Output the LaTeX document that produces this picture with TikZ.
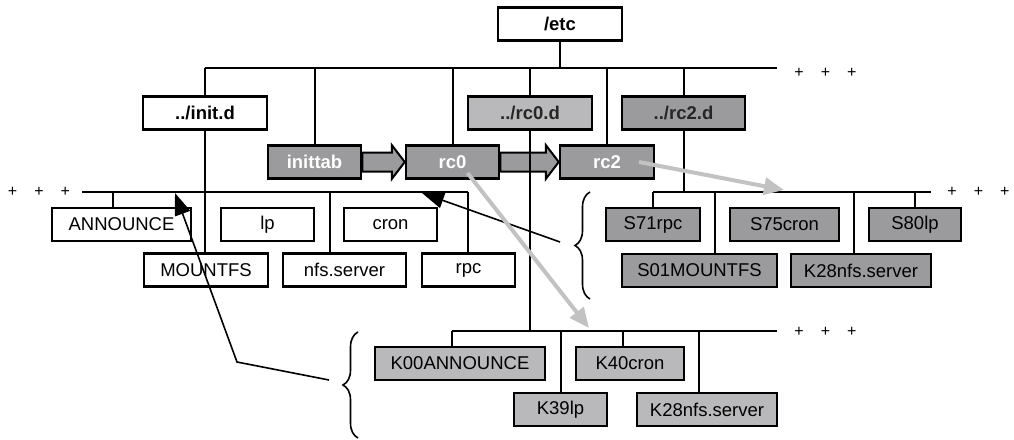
\documentclass[tikz,border=0pt]{standalone}
\usepackage{fontspec}
\setmainfont{Liberation Sans}
\usetikzlibrary{arrows.meta,decorations.pathreplacing}

\definecolor{darkfill}{HTML}{9B9B9E}
\definecolor{lightfill}{HTML}{B9B9BB}
\definecolor{linkgray}{HTML}{C2C2C2}

\begin{document}
\begin{tikzpicture}[x=1pt,y=-1pt,
		every node/.style={font=\fontsize{18.5}{20}\selectfont,inner sep=0pt},
		leafbox/.style={draw=black,line width=2.5pt,fill=white,minimum height=33pt},
		dirbox/.style={leafbox,font=\fontsize{18.5}{20}\selectfont\bfseries},
		linkbox/.style={dirbox,fill=darkfill,text=white},
		sbox/.style={leafbox,fill=darkfill},
		kbox/.style={leafbox,fill=lightfill},
		tree/.style={line width=2pt},
		blockarrow/.style={draw=black,line width=2pt,fill=darkfill},
		grayarrow/.style={draw=linkgray,line width=4pt,-{Triangle[length=20pt,width=17pt]}},
		blackarrow/.style={line width=1.6pt,-{Triangle[length=22pt,width=16pt]}},
		bracemark/.style={decorate,decoration={brace,amplitude=15pt},line width=1.6pt},
		plusses/.style={font=\fontsize{16}{16}\selectfont}]
		\useasboundingbox (0,0) rectangle (1014,439);

		\node[dirbox,minimum width=124pt] (etc) at (560,24) {/etc};
		\node[dirbox,minimum width=124pt] (initd) at (205,113) {../init.d};
		\node[dirbox,fill=lightfill,text=black!85,minimum width=124pt] (rcOd) at (530,113) {../rc0.d};
		\node[dirbox,fill=darkfill,text=black!85,minimum width=123pt] (rcTd) at (683.5,113) {../rc2.d};
		\node[linkbox,minimum width=93pt] (inittab) at (314.5,162) {inittab};
		\node[linkbox,minimum width=93pt] (rcO) at (452.5,162) {rc0};
		\node[linkbox,minimum width=94pt] (rcT) at (607,162) {rc2};

		\node[leafbox,minimum width=139pt] (announce) at (121.5,224.5) {ANNOUNCE};
		\node[leafbox,minimum width=93pt] (lp) at (267.5,224.5) {lp};
		\node[leafbox,minimum width=93pt] (cron) at (390.5,224.5) {cron};
		\node[leafbox,minimum width=124pt] (mountfs) at (206,270) {MOUNTFS};
		\node[leafbox,minimum width=123pt] (nfsserver) at (344.5,270) {nfs.server};
		\node[leafbox,minimum width=93pt] (rpc) at (468.5,270) {rpc};

		\node[sbox,minimum width=94pt] (sSevOne) at (653,224.5) {S71rpc};
		\node[sbox,minimum width=109pt] (sSevFive) at (784.5,224.5) {S75cron};
		\node[sbox,minimum width=92pt] (sEighty) at (915,224.5) {S80lp};
		\node[sbox,minimum width=155pt] (sMount) at (699.5,270.5) {S01MOUNTFS};
		\node[sbox,minimum width=140pt] (kNfsTwo) at (861,270.5) {K28nfs.server};

		\node[kbox,minimum width=170pt] (kAnn) at (460,363.5) {K00ANNOUNCE};
		\node[kbox,minimum width=108pt] (kCron) at (630,363.5) {K40cron};
		\node[kbox,minimum width=93pt] (kLp) at (560.5,409.5) {K39lp};
		\node[kbox,minimum width=140pt] (kNfsZero) at (707,409.5) {K28nfs.server};

		\node[plusses] (plusEtc) at (825.5,73) {+\hspace{17pt}+\hspace{17pt}+};
		\node[plusses] (plusInit) at (39,192) {+\hspace{17pt}+\hspace{17pt}+};
		\node[plusses] (plusRcT) at (978.5,192) {+\hspace{17pt}+\hspace{17pt}+};
		\node[plusses] (plusRcO) at (825.5,332) {+\hspace{17pt}+\hspace{17pt}+};

		\foreach \a/\b in {inittab/rcO,rcO/rcT}
			\draw[blockarrow] ([yshift=9.5pt]\a.east) -- ([xshift=-13pt,yshift=9.5pt]\b.west)
				-- ([xshift=-13pt,yshift=17pt]\b.west) -- (\b.west)
				-- ([xshift=-13pt,yshift=-17pt]\b.west) -- ([xshift=-13pt,yshift=-9.5pt]\b.west)
				-- ([yshift=-9.5pt]\a.east) -- cycle;

		\coordinate (etcL) at (205,68);
		\coordinate (etcR) at (777,68);
		\coordinate (initL) at (82,192);
		\coordinate (initR) at (468,192);
		\coordinate (initA) at (113,192);
		\coordinate (initN) at (330,192);
		\coordinate (rcTL) at (653,192);
		\coordinate (rcTR) at (931,192);
		\coordinate (rcTM) at (715,192);
		\coordinate (rcTK) at (854,192);
		\coordinate (rcOL) at (452,331);
		\coordinate (rcOR) at (777,331);
		\coordinate (rcOC) at (623,331);
		\coordinate (rcON) at (699,331);

		\draw[tree] (etcL) -- (etcR);
		\draw[tree] (etc.south) -- (etc.south |- etcL);
		\foreach \n in {initd,inittab,rcO,rcOd,rcT,rcTd}
			\draw[tree] (\n.north) -- (\n.north |- etcL);

		\draw[tree] (initL) -- (initR);
		\draw[tree] (initd.south) -- (initd.south |- mountfs.north);
		\draw[tree] (initA) -- (initA |- announce.north);
		\draw[tree] (initN) -- (initN |- nfsserver.north);
		\draw[tree] (initR) -- (initR |- rpc.north);

		\draw[tree] (rcTd.south) -- (rcTd.south |- rcTL);
		\draw[tree] (rcTL) -- (rcTR);
		\draw[tree] (rcTL) -- (rcTL |- sSevOne.north);
		\draw[tree] (rcTM) -- (rcTM |- sMount.north);
		\draw[tree] (rcTK) -- (rcTK |- kNfsTwo.north);
		\draw[tree] (sEighty.north) -- (sEighty.north |- rcTL);

		\draw[tree] (rcOd.south) -- (rcOd.south |- rcOL);
		\draw[tree] (rcOL) -- (rcOR);
		\draw[tree] (rcOL) -- (rcOL |- kAnn.north);
		\draw[tree] (rcOC) -- (rcOC |- kCron.north);
		\draw[tree] (rcON) -- (rcON |- kNfsZero.north);
		\draw[tree] (kLp.north) -- (kLp.north |- rcOL);

		\draw[bracemark] (590,299) -- (590,192);
		\draw[bracemark] (358,438) -- (358,332);

		\coordinate (braceOtip) at (329,380);
		\coordinate (bendO) at (237,362);
		\coordinate (annTarget) at (175,193);
		\coordinate (braceTtip) at (560,242);
		\coordinate (cronTarget) at (422,193);
		\draw[blackarrow] (braceOtip) -- (bendO) -- (annTarget);
		\draw[blackarrow] (braceTtip) -- (cronTarget);

		\coordinate (rcTarrow) at (784,190);
		\coordinate (rcOarrow) at (589,328);
		\draw[grayarrow] ([xshift=32pt]rcT.center) -- (rcTarrow);
		\draw[grayarrow] ([xshift=15pt,yshift=-11pt]rcO.center) -- (rcOarrow);

	\end{tikzpicture}
\end{document}
